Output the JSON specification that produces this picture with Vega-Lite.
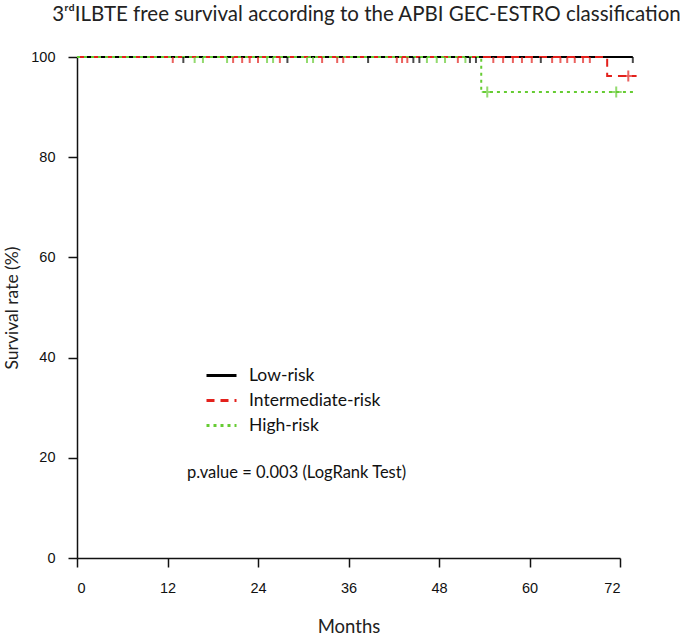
{
  "$schema": "https://vega.github.io/schema/vega-lite/v6.json",
  "autosize": "none",
  "width": 543,
  "height": 501,
  "padding": {"left": 77, "top": 57, "right": 65, "bottom": 80},
  "background": "white",
  "config": {"view": {"stroke": null}},
  "title": {
    "text": "3ʳᵈILBTE free survival according to the APBI GEC-ESTRO classification",
    "font": "Lato",
    "fontSize": 20.5,
    "fontWeight": "normal",
    "color": "#222",
    "anchor": "middle",
    "frame": "group",
    "dx": 18,
    "offset": 24
  },
  "datasets": {
    "curves": [
      {"group": "Low-risk", "month": 0, "surv": 100},
      {"group": "Low-risk", "month": 73.7, "surv": 100},
      {"group": "Intermediate-risk", "month": 0, "surv": 100},
      {"group": "Intermediate-risk", "month": 70.3, "surv": 96.2},
      {"group": "Intermediate-risk", "month": 74.2, "surv": 96.2},
      {"group": "High-risk", "month": 0, "surv": 100},
      {"group": "High-risk", "month": 53.6, "surv": 93},
      {"group": "High-risk", "month": 74.2, "surv": 93}
    ],
    "censor": [
      {"group": "Intermediate-risk", "month": 12.7, "surv": 100},
      {"group": "Low-risk", "month": 14.1, "surv": 100},
      {"group": "High-risk", "month": 15.6, "surv": 100},
      {"group": "High-risk", "month": 16.7, "surv": 100},
      {"group": "High-risk", "month": 19.9, "surv": 100},
      {"group": "Intermediate-risk", "month": 20.7, "surv": 100},
      {"group": "Intermediate-risk", "month": 21.9, "surv": 100},
      {"group": "Intermediate-risk", "month": 22.9, "surv": 100},
      {"group": "Intermediate-risk", "month": 24.0, "surv": 100},
      {"group": "High-risk", "month": 25.2, "surv": 100},
      {"group": "High-risk", "month": 26.0, "surv": 100},
      {"group": "Intermediate-risk", "month": 26.9, "surv": 100},
      {"group": "Low-risk", "month": 27.9, "surv": 100},
      {"group": "High-risk", "month": 30.5, "surv": 100},
      {"group": "High-risk", "month": 31.3, "surv": 100},
      {"group": "Intermediate-risk", "month": 32.5, "surv": 100},
      {"group": "Intermediate-risk", "month": 34.5, "surv": 100},
      {"group": "Intermediate-risk", "month": 35.3, "surv": 100},
      {"group": "Low-risk", "month": 38.6, "surv": 100},
      {"group": "Intermediate-risk", "month": 42.4, "surv": 100},
      {"group": "Intermediate-risk", "month": 43.1, "surv": 100},
      {"group": "Intermediate-risk", "month": 43.8, "surv": 100},
      {"group": "Low-risk", "month": 44.6, "surv": 100},
      {"group": "Low-risk", "month": 45.4, "surv": 100},
      {"group": "High-risk", "month": 46.4, "surv": 100},
      {"group": "High-risk", "month": 47.7, "surv": 100},
      {"group": "High-risk", "month": 48.8, "surv": 100},
      {"group": "Intermediate-risk", "month": 50.5, "surv": 100},
      {"group": "High-risk", "month": 51.5, "surv": 100},
      {"group": "Low-risk", "month": 52.1, "surv": 100},
      {"group": "Low-risk", "month": 52.9, "surv": 100},
      {"group": "Intermediate-risk", "month": 55.2, "surv": 100},
      {"group": "Intermediate-risk", "month": 56.5, "surv": 100},
      {"group": "Intermediate-risk", "month": 57.8, "surv": 100},
      {"group": "Intermediate-risk", "month": 59.0, "surv": 100},
      {"group": "Intermediate-risk", "month": 60.3, "surv": 100},
      {"group": "Low-risk", "month": 61.5, "surv": 100},
      {"group": "Intermediate-risk", "month": 63.0, "surv": 100},
      {"group": "Intermediate-risk", "month": 64.1, "surv": 100},
      {"group": "Intermediate-risk", "month": 65.0, "surv": 100},
      {"group": "Intermediate-risk", "month": 66.0, "surv": 100},
      {"group": "Intermediate-risk", "month": 67.1, "surv": 100},
      {"group": "Intermediate-risk", "month": 68.0, "surv": 100},
      {"group": "Low-risk", "month": 73.7, "surv": 100},
      {"group": "High-risk", "month": 54.4, "surv": 93},
      {"group": "High-risk", "month": 71.5, "surv": 93},
      {"group": "Intermediate-risk", "month": 73.1, "surv": 96.2}
    ]
  },
  "layer": [
    {
      "data": {"name": "curves"},
      "mark": {"type": "line", "interpolate": "step-after", "strokeWidth": 2},
      "encoding": {
        "x": {
          "field": "month",
          "type": "quantitative",
          "scale": {"domain": [0, 72], "nice": false},
          "axis": {
            "title": "Months",
            "values": [0, 12, 24, 36, 48, 60, 72],
            "grid": false,
            "domainColor": "#111",
            "domainWidth": 1.5,
            "tickColor": "#111",
            "tickWidth": 1.5,
            "tickSize": 9,
            "labelFont": "Liberation Sans",
            "labelFontSize": 14.5,
            "labelColor": "#111",
            "labelPadding": 14,
            "titleFont": "Lato",
            "titleFontSize": 18.5,
            "titleFontWeight": "normal",
            "titleColor": "#222",
            "titlePadding": 23
          }
        },
        "y": {
          "field": "surv",
          "type": "quantitative",
          "scale": {"domain": [0, 100], "nice": false},
          "axis": {
            "title": "Survival rate (%)",
            "values": [0, 20, 40, 60, 80, 100],
            "grid": false,
            "domainColor": "#111",
            "domainWidth": 1.5,
            "tickColor": "#111",
            "tickWidth": 1.5,
            "tickSize": 9,
            "labelFont": "Liberation Sans",
            "labelFontSize": 14.5,
            "labelColor": "#111",
            "labelPadding": 13,
            "titleFont": "Lato",
            "titleFontSize": 17.5,
            "titleFontWeight": "normal",
            "titleColor": "#222",
            "titlePadding": 9
          }
        },
        "color": {
          "field": "group",
          "type": "nominal",
          "scale": {
            "domain": ["Low-risk", "Intermediate-risk", "High-risk"],
            "range": ["#000000", "#e3211c", "#66cc33"]
          },
          "legend": {
            "title": null,
            "orient": "none",
            "legendX": 128,
            "legendY": 302,
            "symbolType": "stroke",
            "symbolSize": 900,
            "symbolStrokeWidth": 3,
            "labelFont": "Lato",
            "labelFontSize": 17.5,
            "labelColor": "#111",
            "labelOffset": 11,
            "rowPadding": -1
          }
        },
        "strokeDash": {
          "field": "group",
          "type": "nominal",
          "scale": {
            "domain": ["Low-risk", "Intermediate-risk", "High-risk"],
            "range": [[1, 0], [8, 6], [3, 4]]
          },
          "legend": {
            "title": null,
            "orient": "none",
            "legendX": 128,
            "legendY": 302,
            "symbolType": "stroke",
            "symbolSize": 900,
            "symbolStrokeWidth": 3,
            "labelFont": "Lato",
            "labelFontSize": 17.5,
            "labelColor": "#111",
            "labelOffset": 11,
            "rowPadding": -1
          }
        }
      }
    },
    {
      "data": {"name": "censor"},
      "transform": [{"filter": "datum.surv == 100"}],
      "mark": {"type": "point", "shape": "M0,0L0,1", "size": 144, "strokeWidth": 2, "filled": false},
      "encoding": {
        "x": {"field": "month", "type": "quantitative"},
        "y": {"field": "surv", "type": "quantitative"},
        "color": {"field": "group", "type": "nominal", "legend": null}
      }
    },
    {
      "data": {"name": "censor"},
      "transform": [{"filter": "datum.surv < 100"}],
      "mark": {"type": "point", "shape": "M0,-1L0,1M-1,0L1,0", "size": 121, "strokeWidth": 2, "filled": false},
      "encoding": {
        "x": {"field": "month", "type": "quantitative"},
        "y": {"field": "surv", "type": "quantitative"},
        "color": {"field": "group", "type": "nominal", "legend": null}
      }
    },
    {
      "data": {"values": [{"label": "p.value = 0.003 (LogRank Test)"}]},
      "mark": {"type": "text", "align": "left", "baseline": "middle", "font": "Lato", "fontSize": 16.5, "color": "#111"},
      "encoding": {
        "x": {"datum": 14.6, "type": "quantitative"},
        "y": {"datum": 17.0, "type": "quantitative"},
        "text": {"field": "label"}
      }
    }
  ]
}
